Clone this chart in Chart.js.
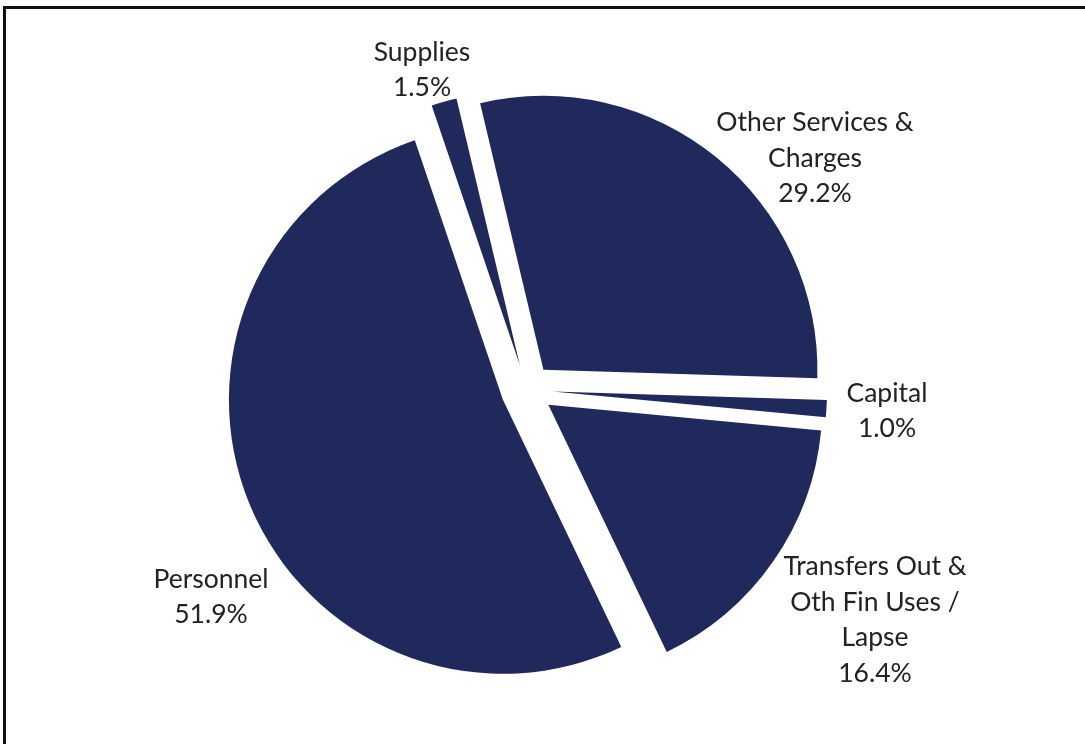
<!DOCTYPE html>
<html>
<head>
<meta charset="utf-8">
<script src="https://cdn.jsdelivr.net/npm/chart.js@4.4.1/dist/chart.umd.min.js"></script>
<style>
  html, body { margin: 0; padding: 0; background: #fff; overflow: hidden; }
  #frame { position: absolute; left: 3px; top: 6px; width: 1300px; height: 1000px; border: 3px solid #111; }
  #wrap { position: absolute; left: 0; top: 0; width: 1085px; height: 744px; }
</style>
</head>
<body>
<div id="frame"></div>
<div id="wrap"><canvas id="pieChart" width="1085" height="744"></canvas></div>
<script>
// data, in slice order going clockwise from the bottom of Personnel
const categories = [
    ['Personnel'],
    ['Supplies'],
    ['Other Services &', 'Charges'],
    ['Capital'],
    ['Transfers Out &', 'Oth Fin Uses /', 'Lapse']
];
const shares = [51.9, 1.5, 29.2, 1.0, 16.4];
const pctLabels = shares.map(v => v.toFixed(1) + '%');

// label block centres, relative to the pie centre
const labelOffsets = [[-316, 207], [-105, -320], [288, -232], [360, 21], [348, 230]];

const EXPLODE = 26;
const LINE_H = 35.5;

// pull every slice out along its mid angle
const explodePlugin = {
    id: 'explode',
    afterDatasetsUpdate(chart) {
        chart.getDatasetMeta(0).data.forEach(arc => {
            const mid = (arc.startAngle + arc.endAngle) / 2;
            arc.x += Math.cos(mid) * EXPLODE;
            arc.y += Math.sin(mid) * EXPLODE;
        });
    }
};

// category name + percent outside each slice
const sliceLabels = {
    id: 'sliceLabels',
    afterDraw(chart) {
        const { ctx, chartArea } = chart;
        const cx = (chartArea.left + chartArea.right) / 2;
        const cy = (chartArea.top + chartArea.bottom) / 2;
        ctx.save();
        ctx.font = '26.5px Lato';
        ctx.fillStyle = '#222222';
        ctx.textAlign = 'center';
        ctx.textBaseline = 'middle';
        categories.forEach((name, i) => {
            const lines = name.concat([pctLabels[i]]);
            const x = cx + labelOffsets[i][0];
            let y = cy + labelOffsets[i][1] - (lines.length - 1) * LINE_H / 2;
            lines.forEach(line => {
                ctx.fillText(line, x, y);
                y += LINE_H;
            });
        });
        ctx.restore();
    }
};

document.addEventListener('DOMContentLoaded', () => {
    const ctx = document.getElementById('pieChart').getContext('2d');
    new Chart(ctx, {
        type: 'pie',
        data: {
            labels: categories,
            datasets: [{
                data: shares,
                backgroundColor: '#20295C',
                borderWidth: 0,
                radius: 274
            }]
        },
        options: {
            responsive: false,
            animation: false,
            rotation: 154.4,
            layout: { padding: { left: 0, right: 31, top: 36, bottom: 0 } },
            plugins: {
                legend: { display: false },
                tooltip: { enabled: false }
            }
        },
        plugins: [explodePlugin, sliceLabels]
    });
});
</script>
</body>
</html>
